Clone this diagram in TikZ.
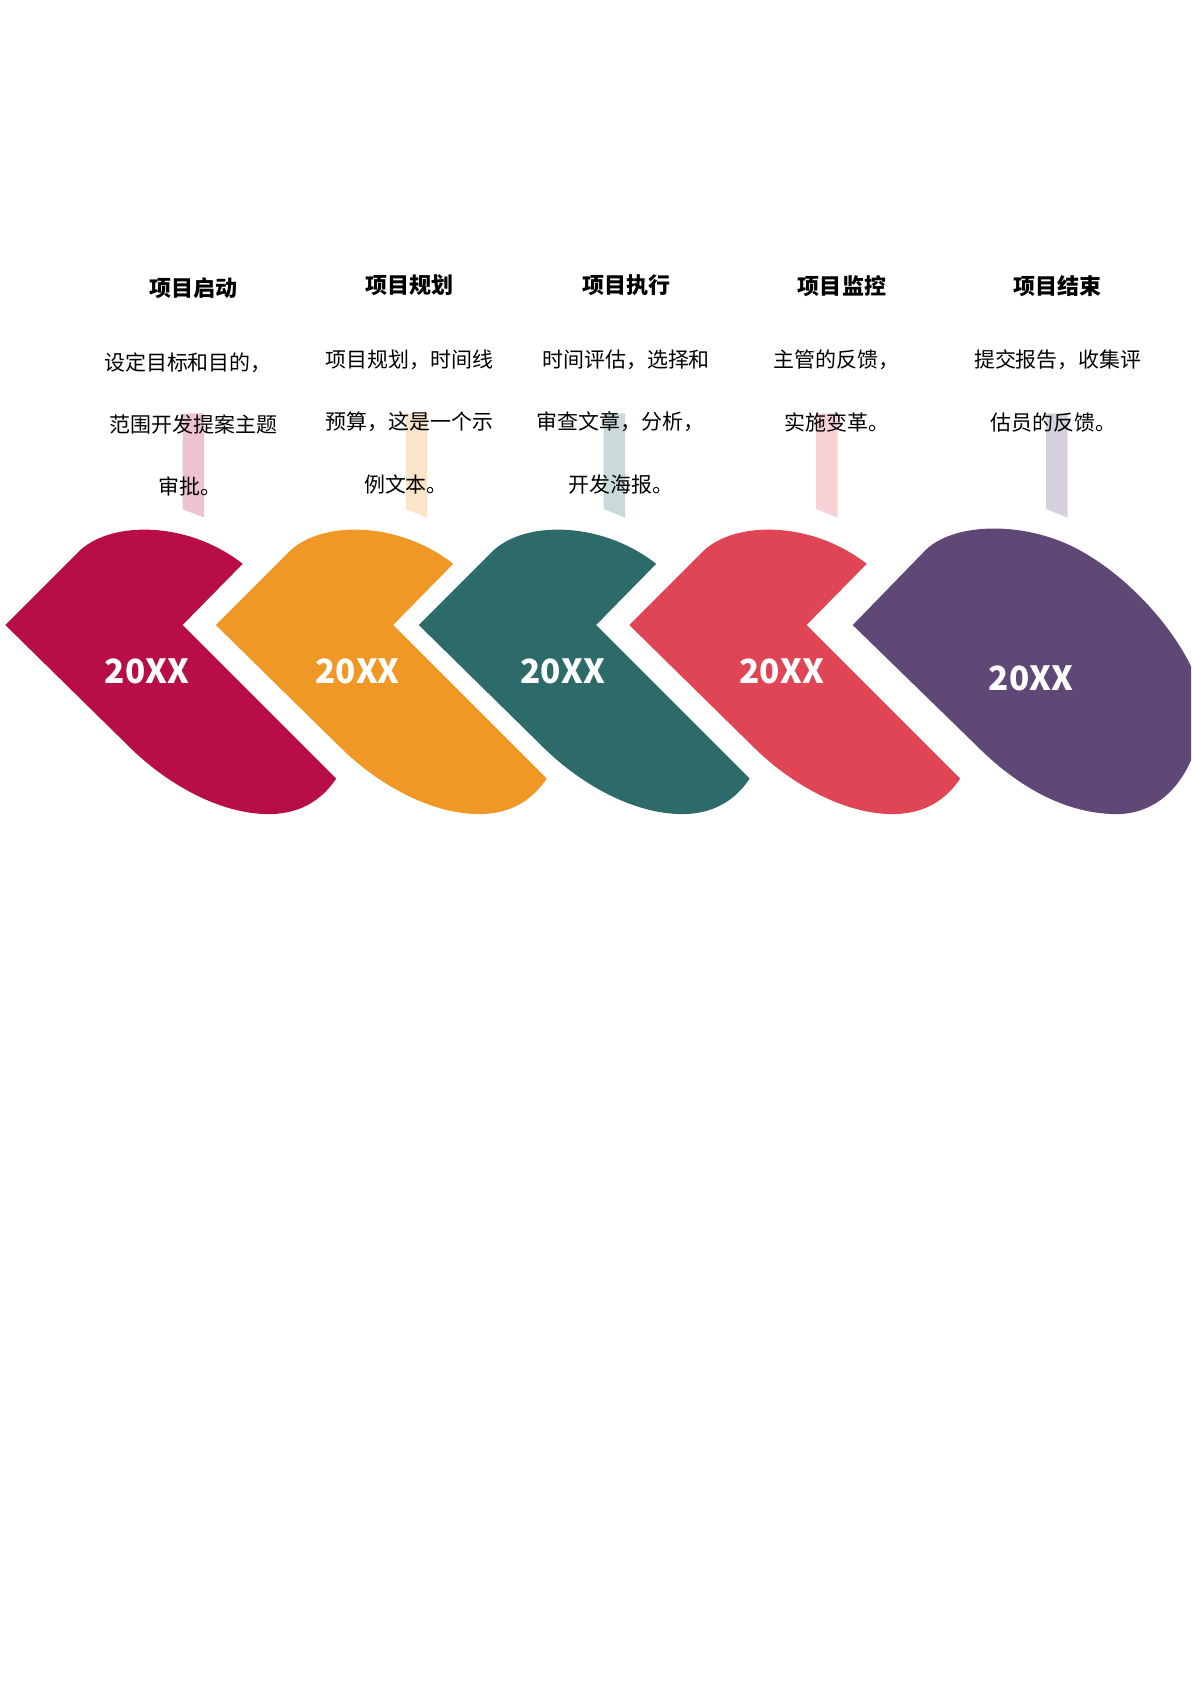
\documentclass[tikz,border=0pt]{standalone}
\usepackage{fontspec}
\newfontfamily\cjk{Noto Sans CJK SC}
\usetikzlibrary{positioning}
\definecolor{cA}{HTML}{B70E47}
\definecolor{cB}{HTML}{F09826}
\definecolor{cC}{HTML}{2D6A6A}
\definecolor{cD}{HTML}{E04556}
\definecolor{cE}{HTML}{5F4776}
\tikzset{
  year/.style={text=white,font=\cjk\bfseries\fontsize{31}{34}\selectfont},
  title/.style={font=\cjk\bfseries\fontsize{20.5}{24}\selectfont},
  body/.style={font=\cjk\fontsize{19.5}{23}\selectfont},
}
\begin{document}
\begin{tikzpicture}[x=1pt,y=-1pt]
  \useasboundingbox (0,0) rectangle (1109,1568);
  \clip (0,0) rectangle (1109,1568);
  % ribbons
  \foreach \x/\c in {170/cA,378/cB,562/cC,760/cD,974/cE}{
    \fill[\c!25] (\x,385) -- (\x+20,385) -- (\x+20,482) -- (\x,474) -- cycle;
  }
  % leaves
  \foreach \t/\c in {5/cA,201/cB,390/cC,586/cD}{
    \fill[\c] (\t,582) -- (\t+70,512) .. controls (\t+100,485) and (\t+170,485) .. (\t+221,525)
      -- (\t+165,582) -- (\t+308,725) .. controls (\t+290,752) and (\t+265,758) .. (\t+245,758)
      .. controls (\t+200,758) and (\t+150,730) .. (\t+115,695) -- cycle;
  }
  \fill[cE] (794,582) -- (862,512) .. controls (890,485) and (960,485) .. (1010,515)
    .. controls (1070,550) and (1120,620) .. (1120,660)
    .. controls (1115,725) and (1080,758) .. (1040,758)
    .. controls (990,758) and (945,730) .. (910,695) -- cycle;
  % years
  \foreach \x/\y [count=\i] in {137/625,333/625,524/625,728/625,960/632}
    \node[year] (y\i) at (\x,\y) {20XX};
  % titles and texts
  \node[title] (t1) at (180,268) {项目启动};
  \node[title] (t2) at (381,266) {项目规划};
  \node[title] (t3) at (583,266) {项目执行};
  \node[title] (t4) at (784,266) {项目监控};
  \node[title] (t5) at (985,266) {项目结束};
  \node[body] (a1) at (175,338) {设定目标和目的，};
  \node[body] (b1) at (180,395) {范围开发提案主题};
  \node[body] (c1) at (177,453) {审批。};
  \node[body] (a2) at (381,335) {项目规划，时间线};
  \node[body] (b2) at (381,393) {预算，这是一个示};
  \node[body] (c2) at (378,451) {例文本。};
  \node[body] (a3) at (583,335) {时间评估，选择和};
  \node[body] (b3) at (578,393) {审查文章，分析，};
  \node[body] (c3) at (578,451) {开发海报。};
  \node[body] (a4) at (779,335) {主管的反馈，};
  \node[body] (b4) at (779,393) {实施变革。};
  \node[body] (a5) at (985,335) {提交报告，收集评};
  \node[body] (b5) at (981,393) {估员的反馈。};
\end{tikzpicture}
\end{document}
